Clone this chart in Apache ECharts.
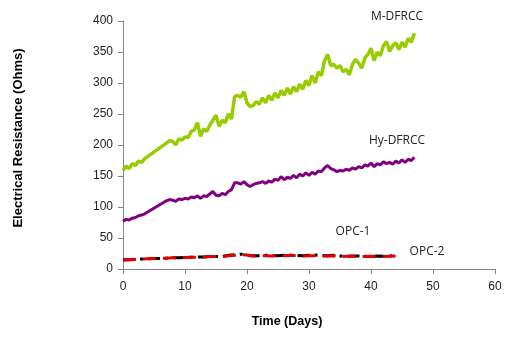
<!DOCTYPE html>
<html>
<head>
<meta charset="utf-8">
<script src="https://cdn.jsdelivr.net/npm/echarts@6/dist/echarts.min.js"></script>
<style>
  html, body { margin: 0; padding: 0; background: #fff; }
  #chart { width: 508px; height: 339px; }
</style>
</head>
<body>
<div id="chart"></div>
<script>
// days for the DFRCC readings (no readings between day 3.5 and 7)
var days = [0, 0.5, 1, 1.5, 2, 2.5, 3, 3.5,
  7, 7.5, 8, 8.5, 9, 9.5, 10, 10.5, 11, 11.5, 12, 12.5, 13, 13.5, 14, 14.5,
  15, 15.5, 16, 16.5, 17, 17.5, 18, 18.5, 19, 19.5, 20, 20.5, 21, 21.5, 22, 22.5,
  23, 23.5, 24, 24.5, 25, 25.5, 26, 26.5, 27, 27.5, 28, 28.5, 29, 29.5, 30, 30.5,
  31, 31.5, 32, 32.5, 33, 33.5, 34, 34.5, 35, 35.5, 36, 36.5, 37, 37.5, 38, 38.5,
  39, 39.5, 40, 40.5, 41, 41.5, 42, 42.5, 43, 43.5, 44, 44.5, 45, 45.5, 46, 46.5, 47];

var mDfrcc = [159, 166, 162, 170, 167, 174, 172, 178,
  203, 207, 206, 200, 210, 208, 213, 212, 222, 224, 236, 214, 226, 222, 232, 240,
  248, 230, 240, 236, 250, 242, 278, 280, 277, 286, 268, 262, 264, 270, 266, 276,
  268, 280, 272, 284, 276, 288, 280, 292, 282, 294, 286, 298, 290, 304, 296, 312,
  300, 318, 312, 336, 346, 328, 330, 324, 328, 318, 322, 313, 330, 338, 332, 324,
  340, 346, 356, 336, 350, 344, 360, 367, 351, 360, 365, 354, 366, 358, 372, 366, 380];

var hyDfrcc = [77, 80, 79, 82, 83, 86, 87, 89,
  110, 112, 111, 109, 113, 112, 114, 113, 116, 115, 118, 114, 118, 117, 121, 125,
  119, 118, 122, 120, 125, 128, 139, 139, 137, 141, 136, 133, 136, 138, 139, 141,
  138, 142, 140, 145, 143, 149, 144, 148, 146, 151, 147, 153, 150, 155, 151, 156,
  153, 158, 157, 163, 167, 162, 160, 157, 159, 158, 161, 159, 163, 161, 165, 163,
  168, 166, 171, 165, 170, 168, 173, 170, 172, 169, 174, 171, 176, 172, 177, 175, 180];

// OPC readings, one per day
var opcDays = [0, 1, 2, 3, 4, 5, 6, 7, 8, 9, 10, 11, 12, 13, 14, 15, 16, 17, 18, 19, 20, 21, 22,
  23, 24, 25, 26, 27, 28, 29, 30, 31, 32, 33, 34, 35, 36, 37, 38, 39, 40, 41, 42, 43, 44];
var opc1 = [15, 15, 16, 16, 16.5, 17, 17, 17.5, 18, 18, 18.5, 19, 19.5, 19.5, 20, 20, 20, 22, 23, 24, 22, 21.5, 21.5,
  22, 22, 21.5, 22, 22, 22, 21.5, 22, 22.5, 22, 21.5, 22, 21, 20.5, 21, 21, 20.5, 20, 21, 20.5, 21, 21.5];
var opc2 = [14.5, 15, 15.5, 16, 16.5, 17, 17.5, 17.5, 18, 18.5, 18.5, 19, 19, 19.5, 20, 20, 20.5, 21.5, 22, 23, 22.5, 21, 21,
  21.5, 21, 21.5, 21.5, 22, 21.5, 21, 21.5, 21.5, 21, 21, 21.5, 20, 20.5, 20.5, 20, 20, 20.5, 20, 20, 20.5, 21];

var xTicks = [0, 10, 20, 30, 40, 50, 60];
var yTicks = [0, 50, 100, 150, 200, 250, 300, 350, 400];

function pairs(xs, ys) {
  return ys.map(function (v, i) { return [xs[i], v]; });
}

var chart = echarts.init(document.getElementById('chart'));

var axisLine = { show: true, lineStyle: { color: '#868686', width: 1 } };
var axisTick = { show: true, inside: false, length: 5, lineStyle: { color: '#868686' } };
var labelStyle = { color: '#222', fontSize: 12, fontFamily: '"Liberation Sans", Arial, sans-serif' };

chart.setOption({
  animation: false,
  grid: { left: 123, right: 13, top: 21, bottom: 70, containLabel: false },
  xAxis: {
    type: 'value',
    min: xTicks[0],
    max: xTicks[xTicks.length - 1],
    interval: 10,
    axisLine: axisLine,
    axisTick: axisTick,
    splitLine: { show: false },
    axisLabel: Object.assign({ margin: 12 }, labelStyle)
  },
  yAxis: {
    type: 'value',
    min: yTicks[0],
    max: yTicks[yTicks.length - 1],
    interval: 50,
    axisLine: axisLine,
    axisTick: axisTick,
    splitLine: { show: false },
    axisLabel: Object.assign({ margin: 10 }, labelStyle)
  },
  series: [
    {
      name: 'M-DFRCC',
      type: 'line',
      data: pairs(days, mDfrcc),
      showSymbol: false,
      lineStyle: { color: '#99CC00', width: 3.5 }
    },
    {
      name: 'Hy-DFRCC',
      type: 'line',
      data: pairs(days, hyDfrcc),
      showSymbol: false,
      lineStyle: { color: '#800080', width: 3 }
    },
    {
      name: 'OPC-1',
      type: 'line',
      data: pairs(opcDays, opc1),
      showSymbol: false,
      lineStyle: { color: '#000000', width: 3, type: [12, 5, 3, 5] }
    },
    {
      name: 'OPC-2',
      type: 'line',
      data: pairs(opcDays, opc2),
      showSymbol: false,
      lineStyle: { color: '#E00000', width: 3, type: [13, 7] }
    }
  ],
  graphic: [
    {
      type: 'text', x: 18, y: 138, rotation: Math.PI / 2,
      style: { text: 'Electrical Resistance (Ohms)', fill: '#000', font: 'bold 13px "Liberation Sans", Arial, sans-serif', align: 'center', verticalAlign: 'middle' }
    },
    {
      type: 'text', x: 287, y: 322,
      style: { text: 'Time (Days)', fill: '#000', font: 'bold 12.5px "Liberation Sans", Arial, sans-serif', align: 'center', verticalAlign: 'middle' }
    },
    { type: 'text', x: 397, y: 17, style: { text: 'M-DFRCC', fill: '#222', font: '12px "Open Sans", sans-serif', align: 'center', verticalAlign: 'middle' } },
    { type: 'text', x: 397, y: 141, style: { text: 'Hy-DFRCC', fill: '#222', font: '12px "Open Sans", sans-serif', align: 'center', verticalAlign: 'middle' } },
    { type: 'text', x: 353, y: 232, style: { text: 'OPC-1', fill: '#222', font: '12px "Open Sans", sans-serif', align: 'center', verticalAlign: 'middle' } },
    { type: 'text', x: 427, y: 252, style: { text: 'OPC-2', fill: '#222', font: '12px "Open Sans", sans-serif', align: 'center', verticalAlign: 'middle' } }
  ]
});
</script>
</body>
</html>
